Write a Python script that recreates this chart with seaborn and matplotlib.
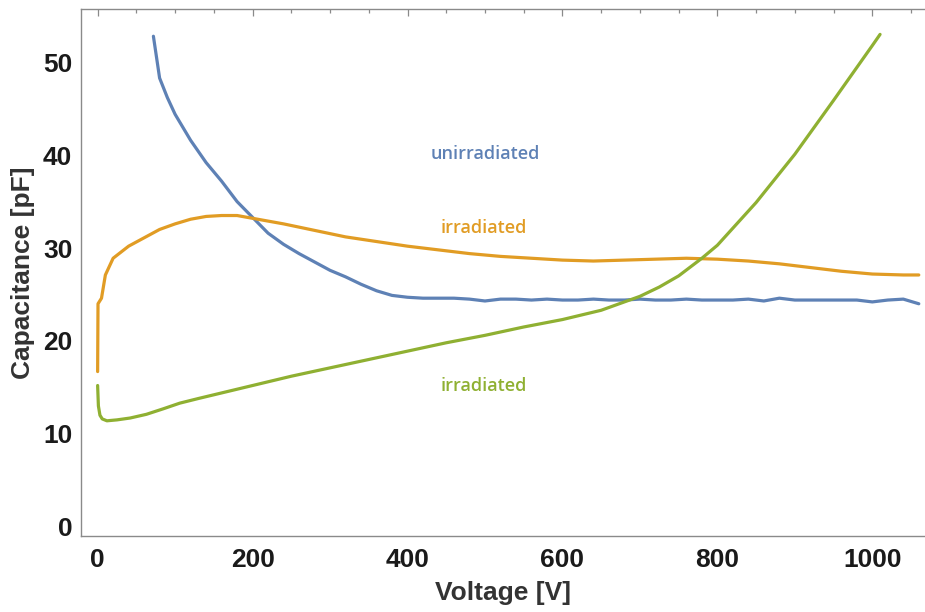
import numpy as np
import pandas as pd
import seaborn as sns
import matplotlib.pyplot as plt
from matplotlib.ticker import MultipleLocator

# ---- data ----
unirr_v = [72, 80, 90, 100, 120, 140, 160, 180, 200, 220, 240, 260, 280, 300, 320, 340, 360, 380,
           400, 420, 440, 460, 480, 500, 520, 540, 560, 580, 600, 620, 640, 660, 680, 700, 720, 740,
           760, 780, 800, 820, 840, 860, 880, 900, 920, 940, 960, 980, 1000, 1020, 1040, 1060]
unirr_c = [52.8, 48.3, 46.2, 44.4, 41.6, 39.2, 37.2, 35.0, 33.3, 31.6, 30.4, 29.4, 28.5, 27.6, 26.9, 26.1, 25.4, 24.9,
           24.7, 24.6, 24.6, 24.6, 24.5, 24.3, 24.5, 24.5, 24.4, 24.5, 24.4, 24.4, 24.5, 24.4, 24.4, 24.5, 24.4, 24.4,
           24.5, 24.4, 24.4, 24.4, 24.5, 24.3, 24.6, 24.4, 24.4, 24.4, 24.4, 24.4, 24.2, 24.4, 24.5, 24.0]

irrA_v = [0, 0.5, 2, 5, 10, 20, 40, 60, 80, 100, 120, 140, 160, 180, 200, 240, 280, 320, 360, 400, 440,
          480, 520, 560, 600, 640, 680, 720, 760, 800, 840, 880, 920, 960, 1000, 1040, 1060]
irrA_c = [16.7, 24.0, 24.2, 24.6, 27.1, 28.9, 30.2, 31.1, 32.0, 32.6, 33.1, 33.4, 33.5, 33.5, 33.2, 32.6, 31.9,
          31.2, 30.7, 30.2, 29.8, 29.4, 29.1, 28.9, 28.7, 28.6, 28.7, 28.8, 28.9, 28.8, 28.6, 28.3, 27.9, 27.5,
          27.2, 27.1, 27.1]

irrB_v = [0, 1, 3, 6, 12, 25, 42, 63, 85, 106, 130, 150, 175, 200, 250, 300, 350, 400, 450, 500, 550, 600, 650, 700,
          725, 750, 780, 800, 850, 900, 950, 1000, 1010]
irrB_c = [15.2, 13.0, 12.0, 11.6, 11.4, 11.5, 11.7, 12.1, 12.7, 13.3, 13.8, 14.2, 14.7, 15.2, 16.2, 17.1, 18.0,
          18.9, 19.8, 20.6, 21.5, 22.3, 23.3, 24.8, 25.8, 27.0, 28.9, 30.3, 34.9, 40.1, 45.9, 51.8, 53.0]

series_names = ["unirradiated", "irradiated A", "irradiated B"]
label_texts = ["unirradiated", "irradiated", "irradiated"]
label_pos_v = [500, 498, 498]
label_pos_c = [40.1, 32.2, 15.1]
colors = ["#5E81B5", "#E19C24", "#8FB032"]

df = pd.concat([
    pd.DataFrame({"V": unirr_v, "C": unirr_c, "s": series_names[0]}),
    pd.DataFrame({"V": irrA_v, "C": irrA_c, "s": series_names[1]}),
    pd.DataFrame({"V": irrB_v, "C": irrB_c, "s": series_names[2]}),
], ignore_index=True)

sns.set_style("white")
plt.rcParams["font.family"] = ["Liberation Sans", "DejaVu Sans"]

fig = plt.figure(figsize=(9.25, 6.12), dpi=100)
ax = fig.add_axes([0.0872, 0.1242, 0.9128, 0.8606])

sns.lineplot(data=df, x="V", y="C", hue="s", palette=dict(zip(series_names, colors)),
             sort=False, estimator=None, linewidth=2.3, legend=False, ax=ax)

for t, xv, yv, c in zip(label_texts, label_pos_v, label_pos_c, colors):
    ax.text(xv, yv, t, color=c, ha="center", va="center", fontsize=13,
            family=["Open Sans", "DejaVu Sans"], fontweight="semibold")

ax.set_xlim(-21.9, 1068)
ax.set_ylim(-1.0, 55.7)
ax.xaxis.set_major_locator(MultipleLocator(200))
ax.xaxis.set_minor_locator(MultipleLocator(50))
ax.yaxis.set_major_locator(MultipleLocator(10))
ax.yaxis.set_minor_locator(MultipleLocator(2))

frame_col = "#8a8a8a"
for side in ["left", "bottom", "top"]:
    ax.spines[side].set_visible(True)
    ax.spines[side].set_color(frame_col)
    ax.spines[side].set_linewidth(1.0)
ax.spines["right"].set_visible(False)

ax.tick_params(which="both", direction="in", top=True, right=False, color=frame_col, width=0.9)
ax.tick_params(which="major", length=5)
ax.tick_params(which="minor", length=3)
ax.tick_params(axis="x", which="major", labelsize=19, pad=9, labelcolor="#1a1a1a")
ax.tick_params(axis="y", which="major", labelsize=19, pad=6, labelcolor="#1a1a1a")
ax.tick_params(axis="x", labeltop=False)
for lbl in ax.get_xticklabels() + ax.get_yticklabels():
    lbl.set_fontweight("bold")

ax.set_xlabel("Voltage [V]", fontsize=19, fontweight="bold", color="#333333", labelpad=6)
ax.set_ylabel("Capacitance [pF]", fontsize=19, fontweight="bold", color="#333333", labelpad=6)

fig.savefig("out.png", dpi=100)
